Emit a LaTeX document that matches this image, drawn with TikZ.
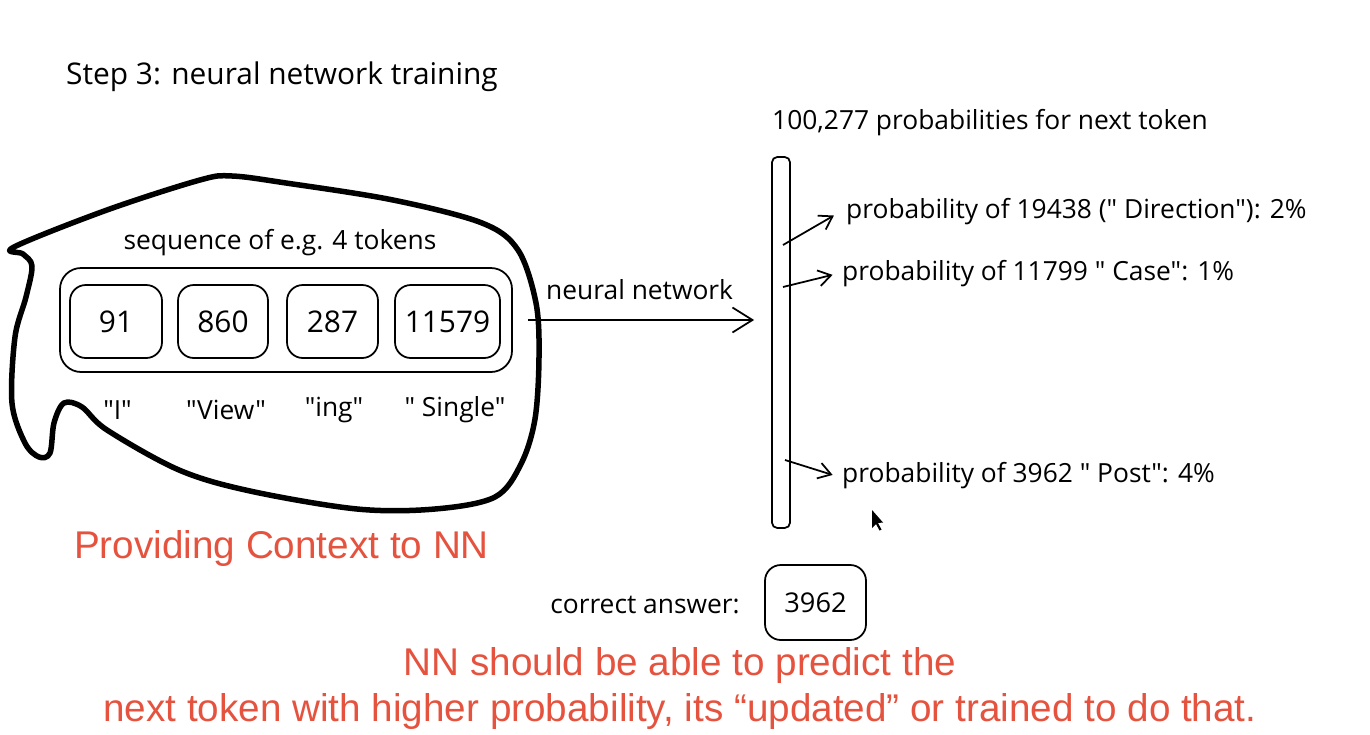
\documentclass[tikz,border=0pt]{standalone}
\usepackage{fontspec}
\setmainfont{Open Sans}[Ligatures=TeXOff]
\newfontfamily\notefont{Liberation Sans}
\usetikzlibrary{arrows.meta,calc}
\definecolor{notered}{HTML}{E5533F}

\begin{document}
\begin{tikzpicture}[
		tokbox/.style={draw, line width=1pt, rounded corners=9pt, minimum height=1.46cm, font=\fontsize{17}{20}\selectfont},
		lbl/.style={font=\fontsize{15}{18}\selectfont},
		note/.style={text=notered, font=\notefont\fontsize{22}{26.6}\selectfont},
		tip/.style={-{Straight Barb[length=2.5mm,width=3.2mm]}, line width=1pt}
	]
			%%%%% START %%%%%
			\useasboundingbox (0, 0) rectangle (27.4, 14.68);
			
			\node[anchor=west, font=\fontsize{17}{20}\selectfont] (title) at (1.2, 13.14) {Step 3: neural network training};
			
			% context blob
			\draw[line width=1.1mm, line join=round] plot[smooth cycle, tension=0.55] coordinates {
				(0.28, 9.74) (2.14, 10.48) (4.0, 11.08) (4.64, 11.16) (5.72, 11.02)
				(7.86, 10.68) (9.64, 10.22) (10.36, 9.68) (10.72, 8.62) (10.78, 7.54)
				(10.7, 6.3) (10.42, 5.4) (9.9, 4.74) (8.7, 4.5) (7.14, 4.5) (5.0, 4.86)
				(3.58, 5.28) (2.14, 6.08) (1.64, 6.54) (1.28, 6.62) (1.08, 6.22)
				(1.0, 5.62) (0.78, 5.54) (0.5, 5.82) (0.24, 6.62) (0.3, 7.94)
				(0.52, 8.74) (0.64, 9.36) (0.46, 9.6)};
			
			\node[draw, line width=1pt, rounded corners=12pt, minimum width=9.04cm, minimum height=2.08cm] (seq) at (5.72, 8.28) {};
			\node[lbl] (seqlbl) at (5.6, 9.82) {sequence of e.g. 4 tokens};
			
			\node[tokbox, minimum width=1.84cm] (t1) at (2.32, 8.25) {91};
			\node[tokbox, minimum width=1.8cm] (t2) at (4.46, 8.25) {860};
			\node[tokbox, minimum width=1.82cm] (t3) at (6.65, 8.25) {287};
			\node[tokbox, minimum width=2.1cm] (t4) at (8.95, 8.25) {11579};
			
			\node[lbl] (w1) at (2.35, 6.48) {"I"};
			\node[lbl] (w2) at (4.52, 6.48) {"View"};
			\node[lbl] (w3) at (6.68, 6.48) {"ing"};
			\node[lbl] (w4) at (9.1, 6.48) {" Single"};
			
			% output
			\node[draw, line width=1pt, rounded corners=3pt, minimum width=0.36cm, minimum height=7.42cm] (bar) at (15.62, 7.83) {};
			\node[lbl] (barlbl) at (19.8, 12.22) {100,277 probabilities for next token};
			
			\draw[tip, -{Straight Barb[length=4mm,width=5mm]}, shorten <=0.3cm, shorten >=0.34cm] (seq.east) -- (seq.east -| bar.west);
			\node[lbl, anchor=west] (nn) at (10.8, 8.88) {neural network};
			
			\node[lbl, anchor=west] (p1) at (16.8, 10.44) {probability of 19438 (" Direction"): 2\%};
			\node[lbl, anchor=west] (p2) at (16.72, 9.2) {probability of 11799 " Case": 1\%};
			\node[lbl, anchor=west] (p3) at (16.72, 5.16) {probability of 3962 " Post": 4\%};
			
			\coordinate (b1) at (15.66, 9.78);
			\coordinate (b2) at (15.66, 8.94);
			\coordinate (b3) at (15.7, 5.48);
			\draw[tip, shorten >=4pt] (b1) -- (p1.west);
			\draw[tip, shorten >=2pt] (b2) -- (p2.west);
			\draw[tip, shorten >=2pt] (b3) -- (p3.west);
			
			% mouse pointer
			\fill (17.44, 4.48) -- (17.44, 4.12) -- (17.52, 4.2) -- (17.59, 4.07) -- (17.63, 4.09) -- (17.56, 4.22) -- (17.66, 4.23) -- cycle;
			
			\node[lbl] (ans) at (12.9, 2.58) {correct answer:};
			\node[tokbox, minimum width=2.02cm, minimum height=1.5cm, font=\fontsize{15.5}{18}\selectfont] (ansbox) at (16.31, 2.63) {3962};
			
			% notes
			\node[note, anchor=west] (ctx) at (1.36, 3.72) {Providing Context to NN};
			\node[note, align=center] (goal) at (13.6, 0.91) {NN should be able to predict the\\next token with higher probability, its “updated” or trained to do that.};
			
			%%%%% END %%%%%
		\end{tikzpicture}
\end{document}
